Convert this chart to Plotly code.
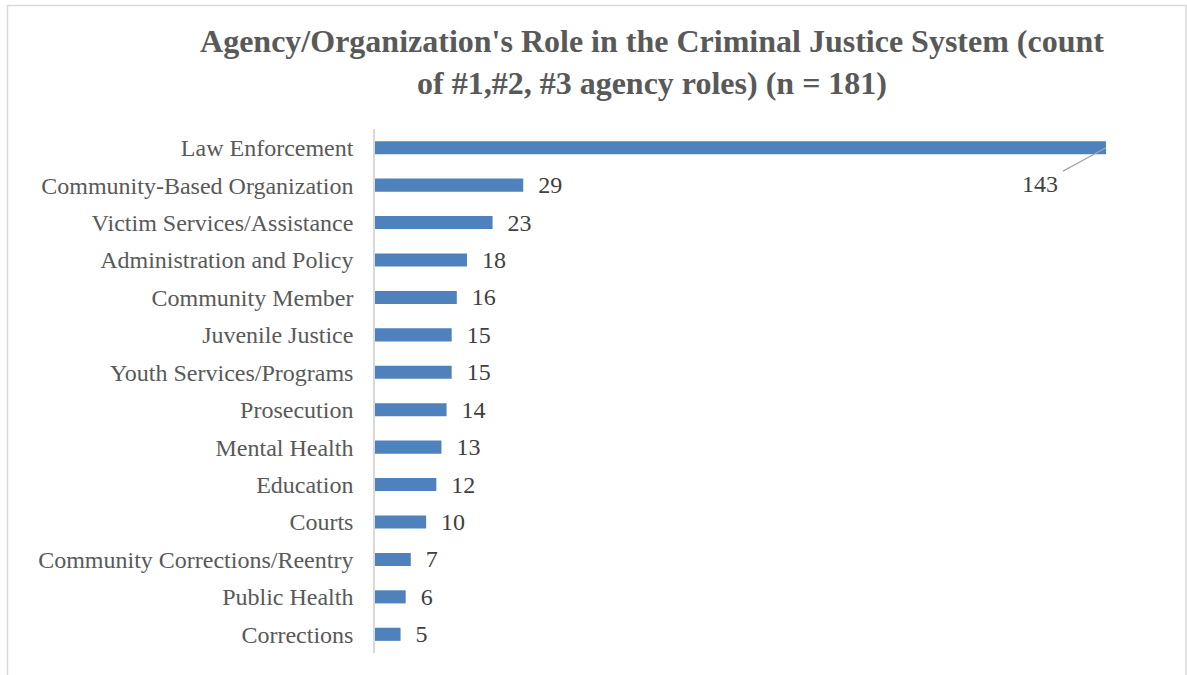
import plotly.graph_objects as go

# data, top to bottom as drawn
roles = [
    "Law Enforcement",
    "Community-Based Organization",
    "Victim Services/Assistance",
    "Administration and Policy",
    "Community Member",
    "Juvenile Justice",
    "Youth Services/Programs",
    "Prosecution",
    "Mental Health",
    "Education",
    "Courts",
    "Community Corrections/Reentry",
    "Public Health",
    "Corrections",
]
counts = [143, 29, 23, 18, 16, 15, 15, 14, 13, 12, 10, 7, 6, 5]

W, H = 1187, 675
L, R, T, B = 375, 81, 129, 22
FONT = "Liberation Serif, Times New Roman, serif"

# the longest bar gets its label via a leader line instead
pad = "\u00a0\u00a0"
bar_text = ["" if c == max(counts) else f"{pad}{c}" for c in counts]

fig = go.Figure(go.Bar(
    y=roles, x=counts, orientation="h",
    marker=dict(color="#4F81BD", line=dict(width=0)),
    width=0.35,
    text=bar_text, textposition="outside", cliponaxis=False,
    constraintext="none",
    textfont=dict(family=FONT, size=24, color="#404040"),
    hoverinfo="x+y",
))

top = roles[counts.index(max(counts))]
fig.add_annotation(
    x=max(counts), y=top, xref="x", yref="y",
    text=f"{max(counts)}", showarrow=True, arrowhead=0,
    arrowcolor="#A6A6A6", arrowwidth=1.3,
    ax=-66, ay=36, standoff=0, startstandoff=4,
    font=dict(family=FONT, size=24, color="#404040"),
)

# outer chart border
pw, ph = W - L - R, H - T - B
fig.add_shape(
    type="rect", xref="paper", yref="paper",
    x0=(7.5 - L) / pw, x1=(1186 - L) / pw,
    y0=-(B + 10) / ph, y1=1 + (T - 5.5) / ph,
    line=dict(color="#D9D9D9", width=1.5), fillcolor="rgba(0,0,0,0)",
    layer="below",
)

fig.update_layout(
    width=W, height=H,
    margin=dict(l=L, r=R, t=T, b=B),
    paper_bgcolor="white", plot_bgcolor="white",
    showlegend=False,
    title=dict(
        text="Agency/Organization's Role in the Criminal Justice System (count<br>of #1,#2, #3 agency roles) (n = 181)",
        x=652 / W, xanchor="center", xref="container",
        y=1 - 52 / H, yanchor="top", yref="container",
        font=dict(family=FONT, size=32, color="#595959", weight="bold"),
    ),
    xaxis=dict(range=[0, 143], visible=False),
    yaxis=dict(
        range=[len(roles) - 0.5, -0.5], showgrid=False,
        showline=True, linecolor="#D9D9D9", linewidth=1.5,
        ticks="", ticklabelstandoff=15,
        tickfont=dict(family=FONT, size=24, color="#595959"),
    ),
)

fig.write_html(
    "out.html",
    config={"displayModeBar": False},
    post_script="document.body.style.margin='0';",
)
